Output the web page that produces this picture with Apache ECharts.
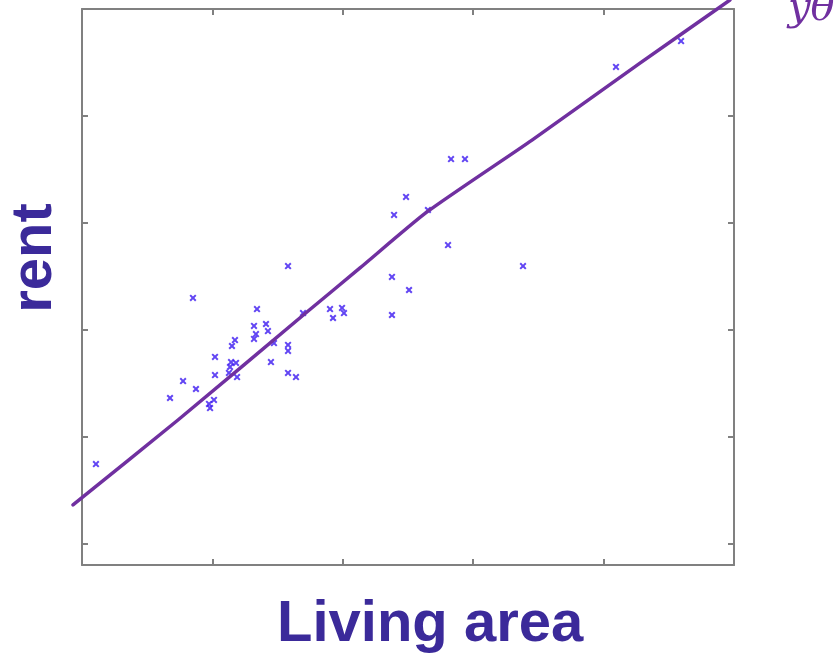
<!DOCTYPE html>
<html>
<head>
<meta charset="utf-8">
<script src="https://cdn.jsdelivr.net/npm/echarts@6/dist/echarts.min.js"></script>
<style>html,body{margin:0;padding:0;background:#fff;}#c{width:840px;height:655px;}</style>
</head>
<body>
<div id="c"></div>
<script>
// Living area (x) values of the observed points
var areaValues = [10.7, 67.5, 77.5, 87.4, 85.1, 101.2, 97.4, 98.2, 102, 102, 114.3, 118.1, 113.5, 112.7, 118.9, 115, 117.3, 131.9, 133.4, 131.9, 134.2, 141.1, 142.6, 147.2, 144.9, 158, 158, 158, 158, 164.1, 169.5, 190.2, 199.4, 192.5, 200.9, 237.7, 237.7, 250.8, 239.3, 248.5, 265.3, 280.7, 283, 293.7, 338.2, 409.5, 459.4];
// Rent (y) values of the observed points
var rentValues = [872, 1181, 1260, 1223, 1649, 1172, 1153, 1134, 1373, 1288, 1349, 1345, 1326, 1298, 1279, 1424, 1452, 1457, 1480, 1518, 1597, 1527, 1494, 1438, 1349, 1798, 1429, 1401, 1298, 1279, 1578, 1597, 1602, 1555, 1578, 1569, 1747, 1686, 2037, 2121, 2060, 1896, 2298, 2298, 1798, 2729, 2850];
// Hand-drawn fit line
var fitArea = [-6.9, 73.6, 172.5, 213.2, 264.6, 345.1, 427.9, 496.9];
var fitRent = [681, 1078, 1583, 1789, 2051, 2387, 2747, 3042];
// Tick positions
var xTicks = [100, 200, 300, 400];
var yTicks = [500, 1000, 1500, 2000, 2500];

var pts = areaValues.map(function (v, i) { return [v, rentValues[i]]; });
var fit = fitArea.map(function (v, i) { return [v, fitRent[i]]; });

function lineStyleAx() { return { show: true, onZero: false, lineStyle: { color: '#808080', width: 2 } }; }
function tickStyle(vals) { return { show: true, inside: true, length: 6, customValues: vals, lineStyle: { color: '#808080', width: 2 } }; }

function xAx(pos) {
  return {
    type: 'value', position: pos, min: 0, max: 500, interval: 100,
    axisLine: lineStyleAx(),
    axisTick: tickStyle(xTicks),
    axisLabel: { show: false }, splitLine: { show: false }
  };
}
function yAx(pos) {
  return {
    type: 'value', position: pos, min: 400, max: 3000,
    axisLine: lineStyleAx(),
    axisTick: tickStyle(yTicks),
    axisLabel: { show: false, customValues: yTicks }, splitLine: { show: false }
  };
}

var chart = echarts.init(document.getElementById('c'));
chart.setOption({
  animation: false,
  backgroundColor: '#ffffff',
  grid: [{ left: 82, right: 106, top: 9, bottom: 90 }],
  xAxis: [xAx('bottom'), xAx('top')],
  yAxis: [yAx('left'), yAx('right')],
  graphic: [
    { type: 'text', left: 277, top: 596, style: { text: 'Living area', font: 'bold 58px "Liberation Sans", Arial, sans-serif', fill: '#3b2a9a' } },
    { type: 'text', x: 64, y: 258, rotation: Math.PI / 2, style: { text: 'rent', font: 'bold 58px "Liberation Sans", Arial, sans-serif', fill: '#3b2a9a', align: 'center', verticalAlign: 'bottom' } },
    { type: 'text', x: 788, y: 30, style: { text: 'yθ', font: 'italic 40px "DejaVu Serif", serif', fill: '#7030a0', verticalAlign: 'bottom' } }
  ],
  series: [
    {
      type: 'scatter', data: pts, symbol: 'path://M0,2L2,0L5,3L8,0L10,2L7,5L10,8L8,10L5,7L2,10L0,8L3,5Z',
      symbolSize: 7, itemStyle: { color: '#3a16f0' }, z: 2
    },
    {
      type: 'custom', data: fit, clip: false, z: 3,
      renderItem: function (params, api) {
        if (params.dataIndex !== 0) return null;
        var p = fit.map(function (d) { return api.coord(d); });
        return {
          type: 'polyline',
          shape: { points: p, smooth: 0.2 },
          style: { stroke: '#7030a0', lineWidth: 3.5, lineCap: 'round', lineJoin: 'round', fill: null }
        };
      }
    }
  ]
});
</script>
</body>
</html>
